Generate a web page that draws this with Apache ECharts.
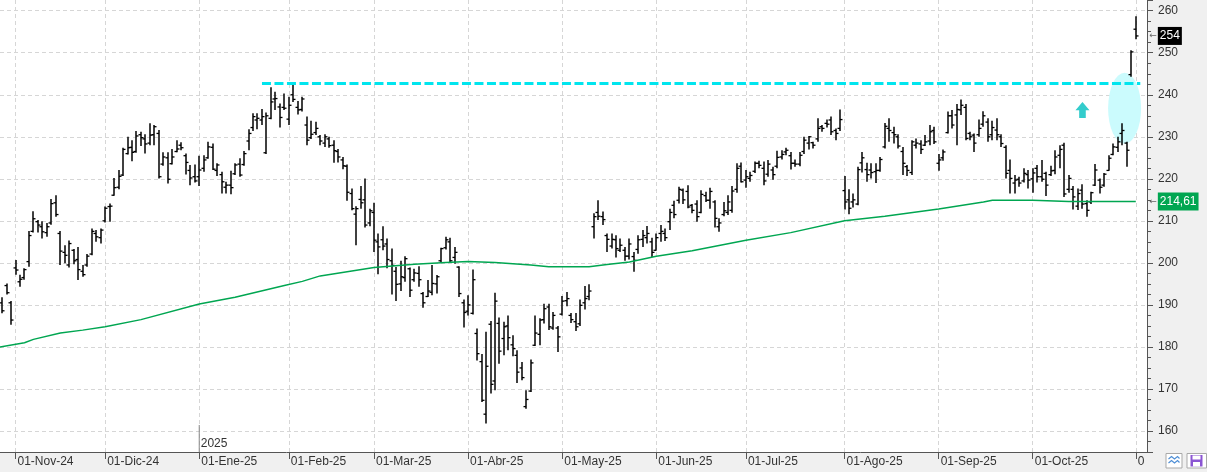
<!DOCTYPE html>
<html>
<head>
<meta charset="utf-8">
<title>Barras diarias</title>
<script src="https://cdn.jsdelivr.net/npm/echarts@6/dist/echarts.min.js"></script>
<style>
  html, body { margin: 0; padding: 0; background: #f0f0f0; }
  #chart { width: 1207px; height: 472px; }
</style>
</head>
<body>
<div id="chart"></div>
<script>
// bar index of the first session of each month (grid lines + labels)
const monthStart = [3, 23, 44, 64, 83, 104, 125, 146, 166, 188, 209, 230, 253]
const monthLabels = ['01-Nov-24', '01-Dic-24', '01-Ene-25', '01-Feb-25', '01-Mar-25', '01-Abr-25',
  '01-May-25', '01-Jun-25', '01-Jul-25', '01-Ago-25', '01-Sep-25', '01-Oct-25', '01-Nov-25']
const yearStart = 44 // first bar of 2025

// daily bars
const opens = [
  190.5, 194.6, 190.5, 198.8, 195.5, 196.5, 200.3, 207.5, 209.8, 208.6,
  207.2, 209.5, 214.3, 207.0, 202.5, 199.5, 203.0, 200.8, 198.0, 199.5,
  202.1, 207.0, 206.0, 210.0, 213.4, 216.1, 218.0, 220.9, 226.0, 227.5,
  226.5, 230.5, 229.5, 228.5, 230.5, 230.8, 223.5, 225.0, 223.6, 226.5,
  228.0, 225.5, 222.0, 220.5, 220.5, 222.5, 225.0, 227.5, 222.0, 221.0,
  218.0, 218.5, 221.2, 223.5, 223.4, 229.0, 232.2, 234.0, 234.0, 226.2,
  234.4, 239.0, 237.1, 237.0, 234.2, 240.0, 237.0, 236.5, 232.8, 229.8,
  231.0, 230.0, 228.5, 229.5, 228.0, 226.5, 224.5, 223.0, 216.5, 211.6,
  215.1, 215.0, 209.5, 212.0, 205.0, 205.5, 204.5, 200.5, 198.0, 195.0,
  196.5, 198.6, 196.0, 197.5, 192.7, 192.0, 193.0, 195.0, 200.5, 203.6,
  205.0, 201.3, 199.0, 190.5, 188.5, 188.0, 183.2, 176.5, 164.0, 185.4,
  171.9, 185.6, 182.0, 185.0, 180.5, 178.0, 175.0, 165.8, 169.5, 180.4,
  183.0, 186.5, 189.5, 184.5, 184.5, 187.8, 191.0, 187.5, 186.0, 185.5,
  190.5, 192.0, 208.6, 212.0, 211.0, 206.5, 204.0, 205.5, 203.0, 203.0,
  201.6, 201.5, 203.2, 205.6, 206.0, 205.0, 203.0, 207.0, 207.0, 209.8,
  213.7, 214.9, 217.3, 217.0, 213.7, 214.0, 212.0, 216.0, 214.9, 214.5,
  208.6, 211.5, 212.0, 212.5, 217.5, 223.0, 219.7, 220.1, 221.8, 223.7,
  222.5, 221.1, 222.1, 223.0, 225.2, 226.4, 225.5, 223.7, 223.5, 226.5,
  228.5, 228.6, 229.5, 232.4, 233.2, 234.0, 231.5, 232.0, 217.2, 215.0,
  214.5, 214.0, 223.8, 222.2, 222.1, 221.7, 222.0, 227.6, 232.0, 231.0,
  230.0, 226.5, 222.9, 221.5, 228.0, 228.3, 228.0, 229.0, 231.5, 223.7,
  225.0, 231.0, 235.0, 235.2, 236.4, 237.0, 230.8, 230.4, 230.5, 233.0,
  233.5, 230.5, 231.6, 230.0, 227.5, 222.0, 219.0, 219.9, 219.5, 221.0,
  220.0, 222.5, 220.5, 221.3, 221.0, 222.0, 225.6, 228.0, 217.5, 217.5,
  213.5, 217.3, 214.1, 214.5, 218.5, 219.7, 218.5, 222.0, 225.8, 227.5,
  230.8, 228.5, 244.8, 255.6,
]
const highs = [
  191.8, 195.1, 190.9, 200.7, 197.2, 198.7, 207.6, 212.3, 210.2, 209.9,
  209.5, 215.2, 216.1, 207.6, 204.2, 205.3, 203.3, 203.8, 199.5, 202.1,
  208.2, 207.8, 208.2, 213.4, 214.1, 220.2, 222.1, 227.4, 230.0, 229.2,
  231.4, 231.2, 230.6, 233.2, 232.8, 231.6, 226.3, 226.3, 227.1, 229.2,
  228.7, 226.0, 223.3, 223.4, 225.5, 225.6, 228.8, 228.4, 223.7, 221.7,
  219.3, 221.9, 223.7, 224.9, 226.6, 231.8, 235.6, 235.6, 236.6, 235.8,
  241.8, 240.7, 237.9, 240.3, 239.5, 242.3, 238.5, 239.5, 234.8, 233.8,
  233.6, 230.4, 230.6, 230.0, 229.2, 227.1, 225.2, 223.4, 217.7, 213.5,
  218.3, 220.1, 212.9, 214.3, 207.0, 208.7, 205.8, 203.4, 199.0, 200.5,
  201.6, 198.9, 198.6, 199.2, 193.1, 195.9, 199.5, 197.1, 203.6, 206.2,
  206.0, 203.8, 199.2, 191.3, 192.3, 198.4, 184.4, 178.3, 183.6, 186.2,
  192.9, 187.0, 186.0, 187.5, 182.8, 179.2, 176.4, 169.7, 177.0, 187.5,
  186.8, 190.3, 190.3, 188.3, 185.0, 192.1, 193.1, 188.1, 188.1, 191.3,
  194.5, 194.9, 211.8, 214.9, 212.2, 207.0, 207.0, 206.6, 205.8, 203.8,
  205.8, 202.6, 206.6, 207.8, 208.8, 206.0, 207.0, 209.0, 208.2, 212.9,
  214.8, 218.1, 217.7, 218.5, 214.0, 214.9, 217.3, 216.9, 217.9, 214.9,
  210.6, 214.5, 216.1, 218.3, 223.7, 223.9, 222.1, 221.7, 224.1, 224.3,
  224.1, 224.5, 222.9, 226.7, 226.8, 227.4, 226.4, 224.6, 226.4, 230.0,
  230.2, 228.8, 234.4, 232.8, 234.1, 234.8, 232.0, 236.5, 220.7, 217.5,
  216.5, 222.9, 226.4, 223.8, 223.7, 223.7, 225.2, 233.3, 234.4, 232.4,
  230.6, 227.6, 223.3, 229.2, 229.6, 229.2, 230.4, 232.8, 232.4, 225.9,
  227.0, 236.0, 236.4, 237.8, 238.9, 237.8, 231.2, 230.8, 234.1, 236.1,
  234.4, 233.8, 234.4, 230.6, 228.0, 224.6, 220.9, 220.5, 222.5, 222.1,
  222.5, 223.3, 224.5, 221.7, 223.1, 226.8, 228.0, 228.6, 220.9, 218.3,
  217.7, 218.7, 214.9, 216.9, 223.5, 220.1, 221.4, 225.6, 228.4, 230.0,
  233.2, 228.8, 250.6, 258.7,
]
const lows = [
  188.0, 192.5, 185.3, 197.2, 194.3, 196.0, 199.1, 207.2, 207.2, 205.8,
  206.2, 209.1, 211.0, 199.5, 199.9, 198.9, 199.7, 195.9, 196.7, 199.1,
  201.8, 205.0, 204.6, 209.6, 209.8, 216.0, 217.5, 220.7, 225.8, 224.2,
  226.2, 227.8, 226.0, 228.0, 228.0, 220.1, 223.1, 218.9, 223.4, 226.3,
  226.8, 221.0, 218.5, 219.1, 218.3, 221.7, 224.8, 222.1, 220.7, 216.5,
  216.5, 216.3, 220.9, 220.5, 223.1, 226.8, 231.4, 231.8, 232.8, 225.9,
  234.2, 236.4, 232.2, 236.4, 232.8, 238.3, 235.3, 236.0, 228.0, 229.5,
  230.4, 228.0, 227.6, 227.4, 223.8, 223.9, 222.3, 214.8, 212.5, 204.2,
  212.9, 208.4, 208.7, 202.6, 197.3, 203.0, 198.7, 192.5, 190.9, 193.3,
  195.5, 191.9, 195.5, 194.3, 189.3, 191.9, 192.3, 192.7, 200.2, 203.2,
  200.0, 199.8, 191.9, 184.6, 187.5, 187.7, 176.8, 166.9, 161.8, 168.9,
  169.7, 176.0, 178.0, 179.2, 177.8, 171.4, 172.1, 165.3, 169.3, 180.2,
  180.4, 185.6, 184.0, 184.1, 178.8, 187.5, 189.7, 185.7, 183.8, 185.0,
  188.9, 191.1, 205.8, 210.2, 209.0, 202.6, 203.4, 201.3, 202.6, 200.5,
  200.8, 197.9, 202.2, 203.8, 204.6, 201.4, 202.9, 205.0, 205.2, 207.8,
  210.6, 214.1, 214.0, 213.0, 211.8, 209.8, 211.8, 214.5, 212.9, 208.4,
  207.4, 211.1, 211.4, 211.9, 216.7, 219.1, 217.9, 219.3, 221.4, 222.5,
  218.5, 220.5, 219.8, 222.5, 224.6, 225.6, 222.2, 222.9, 223.0, 225.9,
  227.0, 227.2, 228.8, 231.2, 232.2, 230.4, 229.2, 231.4, 212.7, 211.6,
  213.2, 213.7, 221.5, 219.3, 220.1, 219.0, 221.7, 227.2, 228.8, 228.4,
  227.2, 220.9, 220.7, 220.9, 227.2, 225.9, 227.8, 228.0, 228.3, 221.9,
  224.3, 230.8, 232.0, 228.0, 235.2, 229.2, 229.2, 226.4, 230.0, 232.4,
  228.8, 229.2, 229.2, 227.6, 220.1, 216.5, 216.5, 218.1, 219.1, 217.7,
  216.7, 219.1, 219.3, 215.9, 220.7, 221.1, 222.5, 215.7, 216.7, 212.7,
  212.6, 212.9, 211.0, 214.0, 218.3, 216.5, 218.1, 221.9, 225.6, 226.4,
  228.0, 222.9, 244.3, 253.2,
]
const closes = [
  188.6, 192.9, 186.4, 198.3, 196.1, 198.4, 206.5, 210.5, 209.0, 207.4,
  208.6, 214.1, 211.5, 202.8, 201.8, 204.6, 200.5, 198.4, 197.2, 201.6,
  207.5, 206.2, 207.8, 213.0, 213.5, 217.9, 220.6, 227.0, 227.4, 226.3,
  230.2, 229.8, 228.3, 230.4, 232.4, 220.5, 225.2, 219.9, 225.2, 227.1,
  227.4, 223.9, 220.2, 219.5, 222.1, 224.5, 227.6, 222.3, 223.3, 219.3,
  218.5, 217.9, 223.3, 220.9, 226.0, 230.8, 234.8, 234.4, 234.8, 235.0,
  238.3, 239.1, 234.6, 236.8, 237.5, 238.9, 236.4, 239.0, 229.2, 230.6,
  232.0, 229.0, 230.0, 227.9, 226.7, 225.2, 223.1, 216.8, 212.9, 212.9,
  214.3, 209.0, 212.4, 205.4, 203.8, 204.0, 200.8, 199.4, 194.9, 196.7,
  201.0, 193.5, 197.6, 196.0, 190.5, 193.3, 195.1, 196.7, 203.4, 205.5,
  200.5, 202.5, 192.7, 188.2, 190.0, 196.0, 178.4, 167.3, 175.4, 171.1,
  190.9, 179.0, 184.8, 182.2, 179.6, 174.0, 172.7, 167.5, 176.2, 183.3,
  186.4, 189.1, 184.8, 187.5, 182.4, 190.9, 191.5, 186.5, 184.8, 189.9,
  191.5, 193.3, 211.0, 211.1, 210.3, 205.6, 205.6, 203.4, 204.2, 201.6,
  204.5, 200.6, 205.5, 206.5, 207.0, 202.5, 206.0, 207.5, 206.0, 212.0,
  211.5, 217.5, 215.0, 213.3, 212.5, 211.0, 216.3, 214.9, 217.0, 210.6,
  209.5, 212.4, 214.5, 217.1, 222.5, 219.3, 220.5, 220.8, 223.7, 223.2,
  219.5, 223.5, 221.0, 225.1, 225.8, 226.8, 223.7, 223.5, 225.6, 229.2,
  230.0, 228.0, 232.0, 232.0, 233.0, 231.2, 230.8, 234.1, 214.5, 213.0,
  215.0, 222.2, 225.0, 221.0, 221.5, 222.0, 224.6, 232.5, 231.5, 230.5,
  227.8, 223.7, 222.0, 228.8, 228.5, 227.0, 228.8, 231.2, 228.8, 224.5,
  226.4, 235.0, 232.8, 236.5, 237.5, 229.6, 230.0, 228.5, 232.0, 235.0,
  230.0, 232.2, 230.5, 228.4, 221.3, 220.1, 219.7, 219.0, 221.3, 219.7,
  221.4, 220.5, 219.9, 218.5, 221.9, 225.2, 227.0, 216.4, 220.1, 215.7,
  216.5, 214.0, 212.5, 216.7, 222.1, 218.0, 221.1, 224.9, 227.6, 228.8,
  231.5, 226.8, 250.2, 254.0,
]

// long moving average (green), read at points along the curve
const maIdx = [-1, 5, 7, 13, 18, 23, 31, 44, 52, 63, 67, 71, 83, 92, 99, 104, 110, 118, 122,
  131, 135, 140, 146, 154, 166, 176, 188, 197, 209, 219, 221, 230, 238, 253]
const maVal = [179.9, 181.0, 181.8, 183.3, 184.0, 184.8, 186.5, 190.2, 191.8, 194.6, 195.6, 196.9,
  198.9, 199.7, 200.1, 200.3, 200.1, 199.5, 199.1, 199.1, 199.6, 200.2, 201.6, 202.9, 205.4,
  207.2, 210.0, 211.1, 212.8, 214.5, 214.9, 214.9, 214.6, 214.61]

// annotations
const resistance = 242.8
const resistanceFrom = 58
const resistanceTo = 254
const ellipseAt = [250.5, 236.8]
const arrowAt = [241.1, 236.4]

const lastIdx = closes.length - 1
const lastClose = closes[lastIdx]
const lastMa = maVal[maVal.length - 1]

const FONT = '"Liberation Sans", Arial, sans-serif'
const GRID_COLOR = '#d6d6d6'

function renderBar(params, api) {
  const i = api.value(0)
  const hi = api.coord([i, api.value(4)])
  const lo = api.coord([i, api.value(3)])
  const op = api.coord([i, api.value(1)])
  const cl = api.coord([i, api.value(2)])
  const x = Math.round(hi[0])
  return {
    type: 'group',
    children: [
      { type: 'line', shape: { x1: x, y1: hi[1], x2: x, y2: lo[1] }, style: { stroke: '#000', lineWidth: 1.5 } },
      { type: 'line', shape: { x1: x - 2.5, y1: op[1], x2: x, y2: op[1] }, style: { stroke: '#000', lineWidth: 1.3 } },
      { type: 'line', shape: { x1: x, y1: cl[1], x2: x + 2.5, y2: cl[1] }, style: { stroke: '#000', lineWidth: 1.3 } },
    ],
  }
}

const ohlc = opens.map((o, i) => [i, o, closes[i], lows[i], highs[i]])
const maData = maIdx.map((x, k) => [x, maVal[k]])

const chart = echarts.init(document.getElementById('chart'))

const option = {
  animation: false,
  backgroundColor: '#f0f0f0',
  grid: {
    left: 0,
    top: 0,
    right: 60,
    bottom: 20,
    show: true,
    backgroundColor: '#ffffff',
    borderWidth: 0,
    outerBoundsMode: 'none',
  },
  xAxis: {
    type: 'value',
    min: -0.46,
    max: 255.5,
    axisLine: { show: true, onZero: false, lineStyle: { color: '#555', width: 1 } },
    axisTick: { show: true, customValues: monthStart, length: 7, lineStyle: { color: '#555' } },
    axisLabel: {
      customValues: monthStart,
      formatter: (v) => monthLabels[monthStart.indexOf(v)],
      align: 'left',
      margin: 4,
      padding: [0, 0, 0, 2],
      color: '#333',
      fontSize: 12,
      fontFamily: FONT,
      hideOverlap: false,
    },
    splitLine: { show: true, lineStyle: { color: GRID_COLOR, type: [4, 3] } },
  },
  yAxis: {
    type: 'value',
    position: 'right',
    min: 155,
    max: 262.55,
    splitNumber: 10,
    axisLine: { show: true, onZero: false, lineStyle: { color: '#555', width: 1 } },
    axisTick: { show: true, length: 6, lineStyle: { color: '#555' } },
    minorTick: { show: true, splitNumber: 4, length: 4, lineStyle: { color: '#555' } },
    axisLabel: {
      color: '#333',
      fontSize: 12,
      fontFamily: FONT,
      margin: 11,
      showMinLabel: false,
      showMaxLabel: false,
      formatter: (v) => (v % 10 === 0 ? String(v) : ''),
    },
    splitLine: {
      show: true,
      showMinLine: false,
      showMaxLine: false,
      lineStyle: { color: GRID_COLOR, type: [4, 3] },
    },
  },
  series: [
    {
      // light cyan highlight sits under the bars
      type: 'line',
      name: 'MA',
      data: maData,
      symbol: 'none',
      z: 4,
      clip: true,
      lineStyle: { color: '#00a651', width: 1.5 },
      markPoint: {
        z: 1,
        silent: true,
        data: [
          {
            coord: ellipseAt,
            symbol: 'circle',
            symbolSize: [33, 71],
            itemStyle: { color: '#cbfbfd' },
            label: { show: false },
          },
          {
            coord: [lastIdx, lastMa],
            symbol: 'rect',
            symbolSize: 1,
            itemStyle: { color: 'rgba(0,0,0,0)' },
            label: {
              show: true,
              position: 'right',
              distance: 0,
              offset: [13, 0],
              formatter: '{a|←}{b|' + lastMa.toFixed(2).replace('.', ',') + '}',
              rich: {
                a: { color: '#666', fontSize: 9, fontFamily: 'DejaVu Sans', padding: [0, 1, 0, 0] },
                b: { color: '#fff', backgroundColor: '#00a651', fontSize: 12, fontFamily: FONT, padding: [3, 2, 3, 2] },
              },
            },
          },
        ],
      },
    },
    {
      type: 'custom',
      name: 'OHLC',
      z: 3,
      renderItem: renderBar,
      encode: { x: 0, y: [1, 2, 3, 4] },
      data: ohlc,
      clip: true,
      markLine: {
        z: 5,
        silent: true,
        symbol: ['none', 'none'],
        label: { show: false },
        lineStyle: { color: '#00e5ee', width: 3, type: [9, 3.5] },
        data: [[{ coord: [resistanceFrom, resistance] }, { coord: [resistanceTo, resistance] }]],
      },
      markPoint: {
        z: 5,
        silent: true,
        data: [
          {
            coord: arrowAt,
            symbol: 'path://M7,0 L14,8.3 L10.3,8.3 L10.3,16 L3.7,16 L3.7,8.3 L0,8.3 Z',
            symbolSize: [14, 16],
            itemStyle: { color: '#33cccc' },
            label: { show: false },
          },
          {
            coord: [lastIdx, lastClose],
            symbol: 'rect',
            symbolSize: 1,
            itemStyle: { color: 'rgba(0,0,0,0)' },
            label: {
              show: true,
              position: 'right',
              distance: 0,
              offset: [13, 0],
              formatter: '{a|←}{b|' + lastClose + '}',
              rich: {
                a: { color: '#666', fontSize: 9, fontFamily: 'DejaVu Sans', padding: [0, 1, 0, 0] },
                b: { color: '#fff', backgroundColor: '#000', fontSize: 12, fontFamily: FONT, padding: [3, 2, 3, 2] },
              },
            },
          },
          {
            // year marker above the axis
            coord: [yearStart, 155],
            symbol: 'rect',
            symbolSize: [1, 27],
            symbolOffset: [0, -13.5],
            itemStyle: { color: '#888' },
            label: {
              show: true,
              position: 'right',
              distance: 1,
              offset: [0, 5],
              formatter: '2025',
              color: '#333',
              fontSize: 12,
              fontFamily: FONT,
            },
          },
        ],
      },
    },
  ],
  graphic: [
    // the right panel hides the overflow of the last month label
    { type: 'rect', z: 100, silent: true, shape: { x: 1145, y: 453, width: 62, height: 19 }, style: { fill: '#f0f0f0' } },
    { type: 'rect', z: 101, silent: true, shape: { x: 1166, y: 453.5, width: 16, height: 14.5 }, style: { fill: '#fff', stroke: '#a9a9a9' } },
    { type: 'polyline', z: 102, silent: true, shape: { points: [[1168.5, 459], [1171.5, 456.5], [1174.5, 459], [1177.5, 456.5], [1179.5, 458.5]] }, style: { stroke: '#4f8fd6', lineWidth: 1.2, fill: null } },
    { type: 'polyline', z: 102, silent: true, shape: { points: [[1168.5, 463], [1171.5, 460.5], [1174.5, 463], [1177.5, 460.5], [1179.5, 462.5]] }, style: { stroke: '#4f8fd6', lineWidth: 1.2, fill: null } },
    { type: 'rect', z: 101, silent: true, shape: { x: 1187, y: 453.5, width: 19.5, height: 14.5 }, style: { fill: '#fff', stroke: '#a9a9a9' } },
    { type: 'rect', z: 102, silent: true, shape: { x: 1190.5, y: 455, width: 12, height: 11.5 }, style: { fill: '#8b55d3' } },
    { type: 'rect', z: 103, silent: true, shape: { x: 1192.5, y: 455.5, width: 8, height: 4 }, style: { fill: '#fff' } },
    { type: 'rect', z: 103, silent: true, shape: { x: 1193, y: 462, width: 7, height: 4.5 }, style: { fill: '#fff' } },
  ],
}

chart.setOption(option)
</script>
</body>
</html>
